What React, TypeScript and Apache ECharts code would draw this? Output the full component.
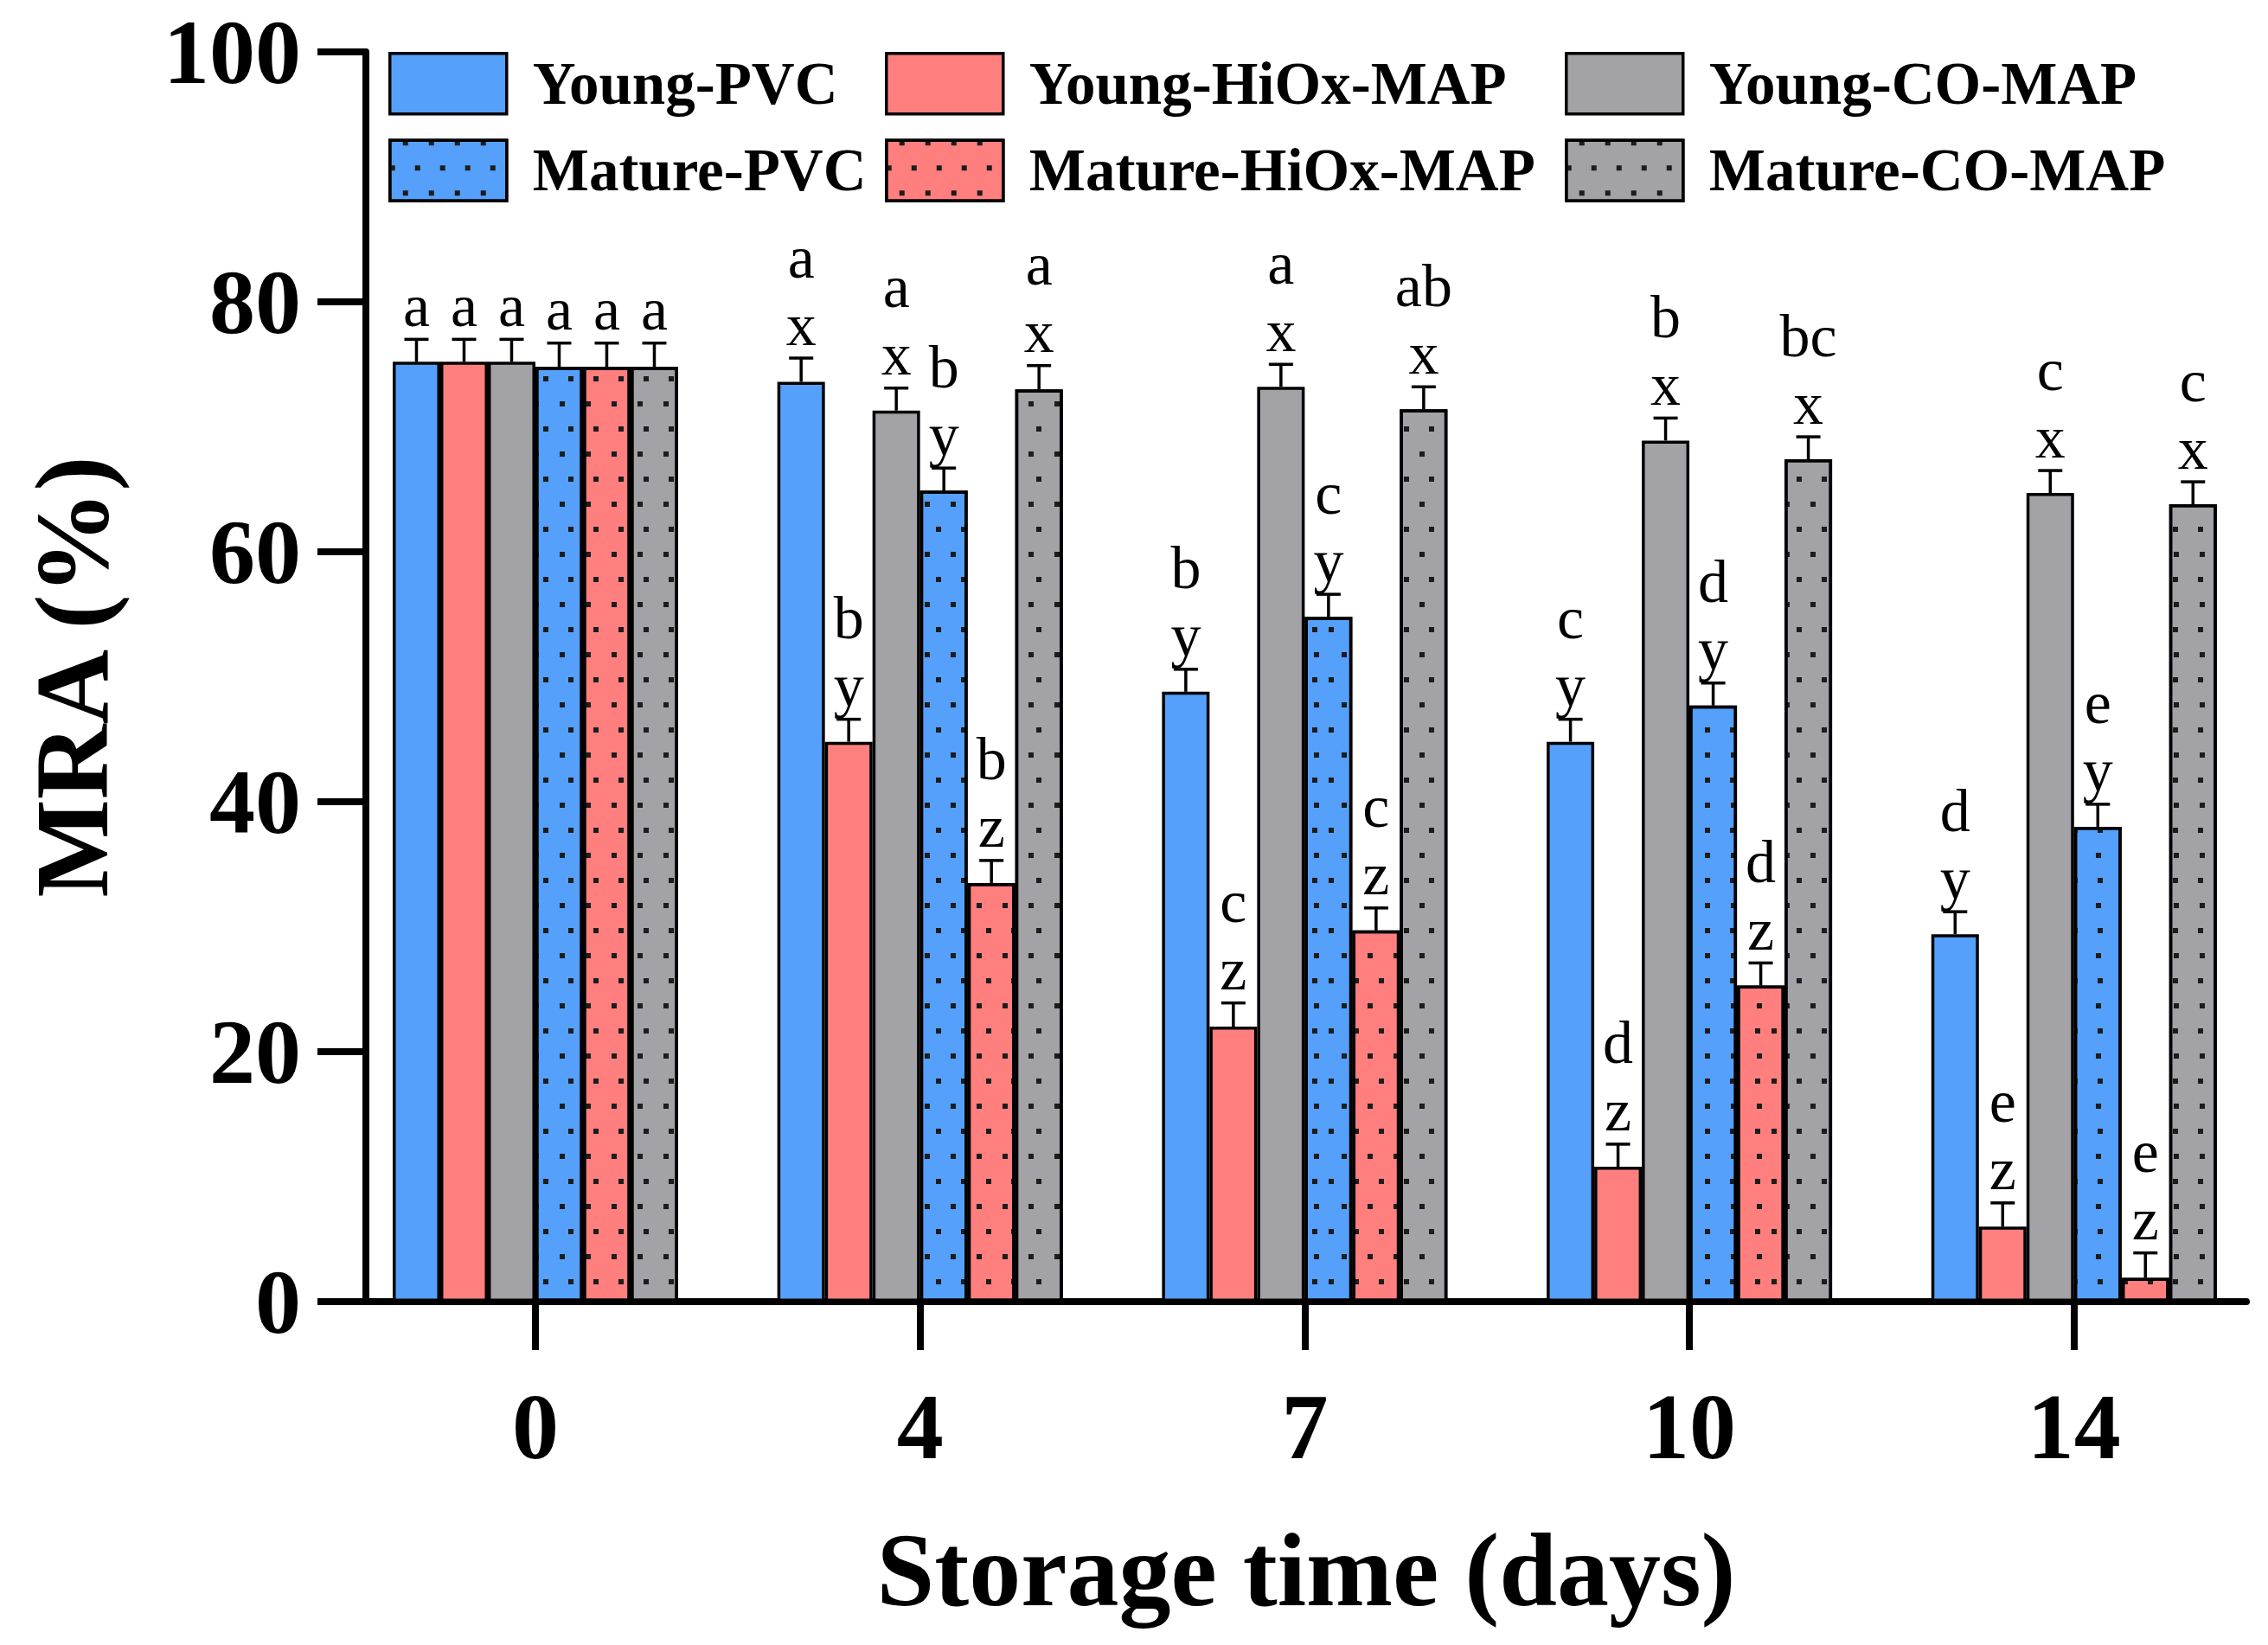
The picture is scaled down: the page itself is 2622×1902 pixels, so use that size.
import React, { useEffect, useRef } from "react";
import * as echarts from "echarts";

// ---------- data ----------
const days = ["0", "4", "7", "10", "14"];
const seriesNames = [
  "Young-PVC",
  "Young-HiOx-MAP",
  "Young-CO-MAP",
  "Mature-PVC",
  "Mature-HiOx-MAP",
  "Mature-CO-MAP",
];
const youngPVC = [75.2, 73.6, 48.8, 44.8, 29.4];
const youngHiOx = [75.2, 44.8, 22.0, 10.8, 6.0];
const youngCO = [75.2, 71.3, 73.2, 68.9, 64.7];
const maturePVC = [74.8, 64.9, 54.8, 47.7, 38.0];
const matureHiOx = [74.8, 33.5, 29.7, 25.3, 1.9];
const matureCO = [74.8, 73.0, 71.4, 67.4, 63.8];

const youngPVCErr = [1.8, 1.9, 1.8, 1.8, 1.8];
const youngHiOxErr = [1.8, 1.8, 1.9, 1.8, 1.9];
const youngCOErr = [1.8, 1.8, 1.8, 1.8, 1.8];
const maturePVCErr = [1.9, 1.8, 1.8, 1.8, 1.8];
const matureHiOxErr = [1.9, 1.8, 1.8, 1.8, 2.0];
const matureCOErr = [1.9, 1.9, 1.8, 1.8, 1.8];

const youngPVCLetters = ["a", "a\nx", "b\ny", "c\ny", "d\ny"];
const youngHiOxLetters = ["a", "b\ny", "c\nz", "d\nz", "e\nz"];
const youngCOLetters = ["a", "a\nx", "a\nx", "b\nx", "c\nx"];
const maturePVCLetters = ["a", "b\ny", "c\ny", "d\ny", "e\ny"];
const matureHiOxLetters = ["a", "b\nz", "c\nz", "d\nz", "e\nz"];
const matureCOLetters = ["a", "a\nx", "ab\nx", "bc\nx", "c\nx"];

const yTicks = [0, 20, 40, 60, 80, 100];

// ---------- styles ----------
const FONT = '"Liberation Serif", "Times New Roman", serif';
const COLORS = ["#55A0FB", "#FF7F7F", "#A3A2A7", "#55A0FB", "#FF7F7F", "#A3A2A7"];
const BAR_W = 55;
const LETTER_SIZE = 70;
const LETTER_STEP = 78;

const dotDecal = {
  symbol: "rect",
  symbolSize: 1,
  color: "#1c1c1c",
  backgroundColor: null,
  dashArrayX: [
    [6, 23],
    [0, 14.5, 6, 8.5],
  ],
  dashArrayY: [6, 23],
  rotation: 0,
};

export default function App() {
  const ref = useRef<HTMLDivElement>(null);

  useEffect(() => {
    document.body.style.margin = "0";
    const chart = echarts.init(ref.current!, null, { renderer: "svg" });

    const allValues = [youngPVC, youngHiOx, youngCO, maturePVC, matureHiOx, matureCO];
    const allErrors = [youngPVCErr, youngHiOxErr, youngCOErr, maturePVCErr, matureHiOxErr, matureCOErr];
    const allLetters = [
      youngPVCLetters,
      youngHiOxLetters,
      youngCOLetters,
      maturePVCLetters,
      matureHiOxLetters,
      matureCOLetters,
    ];

    const barSeries = seriesNames.map((name, s) => ({
      name,
      type: "bar",
      barWidth: BAR_W,
      barGap: "0%",
      data: allValues[s].map((v, d) => [d, v]),
      itemStyle: {
        color: COLORS[s],
        borderColor: "#000",
        borderWidth: 3.5,
        decal: s >= 3 ? dotDecal : undefined,
      },
      z: 2,
    }));

    const annotData: number[][] = [];
    const annotLabels: string[] = [];
    for (let s = 0; s < 6; s++) {
      for (let d = 0; d < days.length; d++) {
        annotData.push([d, s, allValues[s][d], allErrors[s][d]]);
        annotLabels.push(allLetters[s][d]);
      }
    }

    const annotSeries = {
      name: "annotations",
      type: "custom",
      z: 5,
      encode: { x: 0, y: 2 },
      data: annotData,
      renderItem: (params: any, api: any) => {
        const d = api.value(0);
        const s = api.value(1);
        const v = api.value(2);
        const e = api.value(3);
        const base = api.coord([d, v]);
        const top = api.coord([d, v + e]);
        const cx = base[0] + (s - 2.5) * BAR_W;
        const capHalf = 14;
        const lines = annotLabels[params.dataIndex].split("\n");
        const children: any[] = [
          {
            type: "line",
            shape: { x1: cx, y1: base[1], x2: cx, y2: top[1] },
            style: { stroke: "#000", lineWidth: 3.5 },
          },
          {
            type: "line",
            shape: { x1: cx - capHalf, y1: top[1], x2: cx + capHalf, y2: top[1] },
            style: { stroke: "#000", lineWidth: 3.5 },
          },
        ];
        const n = lines.length;
        lines.forEach((t, k) => {
          children.push({
            type: "text",
            x: cx,
            y: top[1] - 4 - (n - 1 - k) * LETTER_STEP,
            style: {
              text: t,
              fill: "#000",
              fontSize: LETTER_SIZE,
              fontFamily: FONT,
              lineHeight: LETTER_SIZE,
              align: "center",
              verticalAlign: "bottom",
            },
          });
        });
        return { type: "group", children };
      },
    };

    const legendBase = {
      orient: "vertical",
      top: 60,
      itemWidth: 135,
      itemHeight: 70,
      itemGap: 27,
      icon: "rect",
      padding: 0,
      selectedMode: false,
      itemStyle: { borderColor: "#000", borderWidth: 3.5 },
      textStyle: {
        fontSize: 69,
        fontWeight: "bold",
        fontFamily: FONT,
        color: "#000",
        padding: [0, 0, 0, 25],
      },
    };

    chart.setOption({
      animation: false,
      backgroundColor: "#fff",
      textStyle: { fontFamily: FONT },
      legend: [
        { ...legendBase, left: 449, data: [seriesNames[0], seriesNames[3]] },
        { ...legendBase, left: 1023, data: [seriesNames[1], seriesNames[4]] },
        { ...legendBase, left: 1809, data: [seriesNames[2], seriesNames[5]] },
      ],
      grid: { left: 423, right: 25, top: 60, bottom: 397, containLabel: false },
      xAxis: {
        type: "value",
        min: -0.4407,
        max: 4.448,
        splitLine: { show: false },
        axisLine: { show: true, onZero: false, lineStyle: { color: "#000", width: 8 } },
        axisTick: {
          show: true,
          customValues: [0, 1, 2, 3, 4],
          length: 56,
          lineStyle: { color: "#000", width: 8 },
        },
        axisLabel: {
          customValues: [0, 1, 2, 3, 4],
          formatter: (v: number) => days[Math.round(v)] ?? "",
          fontSize: 108,
          fontWeight: "bold",
          fontFamily: FONT,
          color: "#000",
          margin: 90,
        },
        name: "Storage time (days)",
        nameLocation: "middle",
        nameGap: 250,
        nameTextStyle: { fontSize: 120, fontWeight: "bold", fontFamily: FONT, color: "#000" },
      },
      yAxis: {
        type: "value",
        min: yTicks[0],
        max: yTicks[yTicks.length - 1],
        interval: 20,
        splitLine: { show: false },
        axisLine: { show: true, onZero: false, lineStyle: { color: "#000", width: 8 } },
        axisTick: { show: true, length: 56, lineStyle: { color: "#000", width: 8 } },
        axisLabel: {
          fontSize: 106,
          fontWeight: "bold",
          fontFamily: FONT,
          color: "#000",
          margin: 75,
        },
        name: "MRA (%)",
        nameLocation: "middle",
        nameGap: 280,
        nameTextStyle: { fontSize: 120, fontWeight: "bold", fontFamily: FONT, color: "#000" },
      },
      series: [...barSeries, annotSeries],
    });

    return () => chart.dispose();
  }, []);

  return <div ref={ref} style={{ width: 2622, height: 1902 }} />;
}
